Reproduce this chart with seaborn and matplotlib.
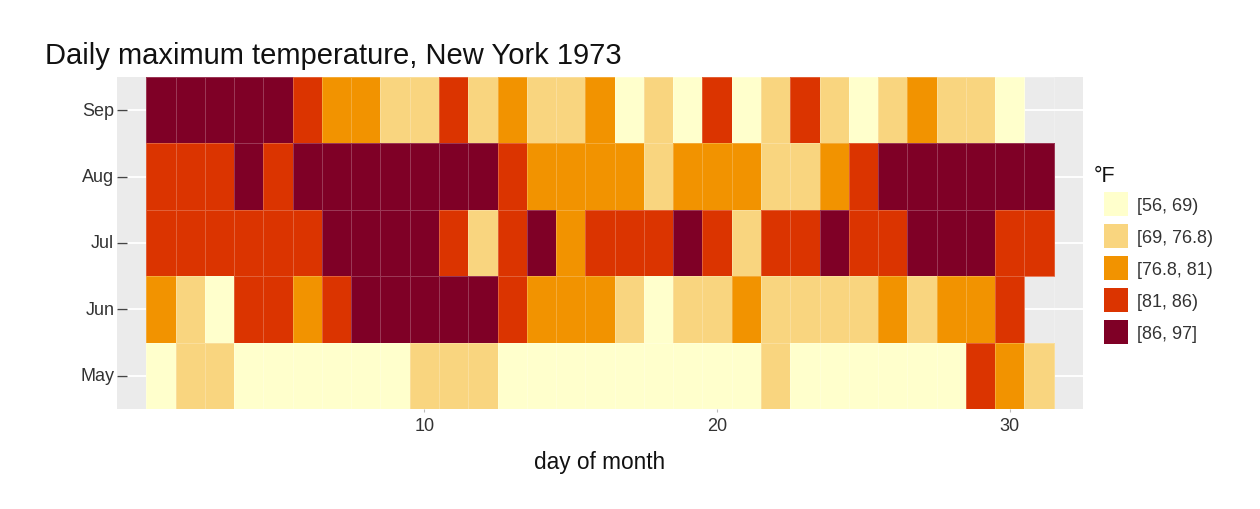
import numpy as np
import pandas as pd
import matplotlib
matplotlib.use("Agg")
import matplotlib.pyplot as plt
from matplotlib.colors import ListedColormap
from matplotlib.patches import Patch
import seaborn as sns

months = ["May", "Jun", "Jul", "Aug", "Sep"]
may = [67, 72, 74, 62, 56, 66, 65, 59, 61, 69, 74, 69, 66, 68, 58, 64, 66, 57, 68, 62,
       59, 73, 61, 61, 57, 58, 57, 67, 81, 79, 76]
jun = [78, 74, 67, 84, 85, 79, 82, 87, 90, 87, 93, 92, 82, 80, 79, 77, 72, 65, 73, 76,
       77, 76, 76, 76, 75, 78, 73, 80, 77, 83]
jul = [84, 85, 81, 84, 83, 83, 88, 92, 92, 89, 82, 73, 81, 91, 80, 81, 82, 84, 87, 85,
       74, 81, 82, 86, 85, 82, 86, 88, 86, 83, 81]
aug = [81, 81, 82, 86, 85, 87, 89, 90, 90, 92, 86, 86, 82, 80, 79, 77, 79, 76, 78, 78,
       77, 72, 75, 79, 81, 86, 88, 97, 94, 96, 94]
sep = [91, 92, 93, 93, 87, 84, 80, 78, 75, 73, 81, 76, 77, 71, 71, 78, 67, 76, 68, 82,
       64, 71, 81, 69, 63, 70, 77, 75, 76, 68]
breaks = [56, 69, 76.8, 81, 86, 97]
bin_labels = ["[56, 69)", "[69, 76.8)", "[76.8, 81)", "[81, 86)", "[86, 97]"]
colors = ["#FFFFCC", "#F9D57F", "#F29300", "#DB3400", "#7F0026"]
days = list(range(1, 32))

temps = {"May": may, "Jun": jun, "Jul": jul, "Aug": aug, "Sep": sep}
rows = []
for m in months[::-1]:
    vals = temps[m] + [np.nan] * (31 - len(temps[m]))
    rows.append(vals)
df = pd.DataFrame(rows, index=months[::-1], columns=days)

def to_bin(v):
    if np.isnan(v):
        return np.nan
    for i in range(len(breaks) - 1):
        if v < breaks[i + 1] or i == len(breaks) - 2:
            return i
    return np.nan

codes = df.map(to_bin)

plt.rcParams['font.family'] = ['Liberation Sans', 'DejaVu Sans']
fig = plt.figure(figsize=(12.6, 5.1), dpi=100)
ax = fig.add_axes([117/1260, 1 - 410/510, (1083-117)/1260, (410-78)/510])
ax.set_facecolor("#EBEBEB")
ax.set_axisbelow(True)

sns.heatmap(codes, ax=ax, cmap=ListedColormap(colors), vmin=-0.5, vmax=4.5,
            cbar=False, linewidths=0.5, linecolor=(1, 1, 1, 0.22))

ax.set_xlim(-1, 32)
ax.set_ylim(5, 0)
xt = [10, 20, 30]
ax.set_xticks([d - 0.5 for d in xt])
ax.set_xticklabels([str(d) for d in xt])
ax.set_yticks([i + 0.5 for i in range(5)])
ax.set_yticklabels(months[::-1], rotation=0)
for s in ax.spines.values():
    s.set_visible(False)
ax.grid(True, color="white", linewidth=1.3)
ax.tick_params(axis='y', direction='in', length=7, width=1, color="#444444",
               labelsize=13, labelcolor="#333333", pad=2)
ax.tick_params(axis='x', direction='out', length=2, width=0.8, color="#BBBBBB",
               labelsize=13, labelcolor="#333333", pad=4)
ax.set_xlabel("day of month", fontsize=16.3, color="#111111", labelpad=11)
ax.set_ylabel("")

fig.text(45/1260, 1 - 64/510, "Daily maximum temperature, New York 1973",
         fontsize=21, color="#111111", ha="left", va="baseline")

fig.text(1094/1260, 1 - 182/510, "°F", fontsize=15.5, color="#111111",
         ha="left", va="baseline")
handles = [Patch(facecolor=c, edgecolor="none") for c in colors]
leg = fig.legend(handles, bin_labels, loc="upper left",
                 bbox_to_anchor=(1104/1260, 1 - 193/510), frameon=False,
                 fontsize=13, handlelength=1.33, handleheight=1.668,
                 handletextpad=0.5, labelspacing=0.44, borderpad=0,
                 borderaxespad=0)
for t in leg.get_texts():
    t.set_color("#333333")

fig.savefig("out.png", dpi=100)
